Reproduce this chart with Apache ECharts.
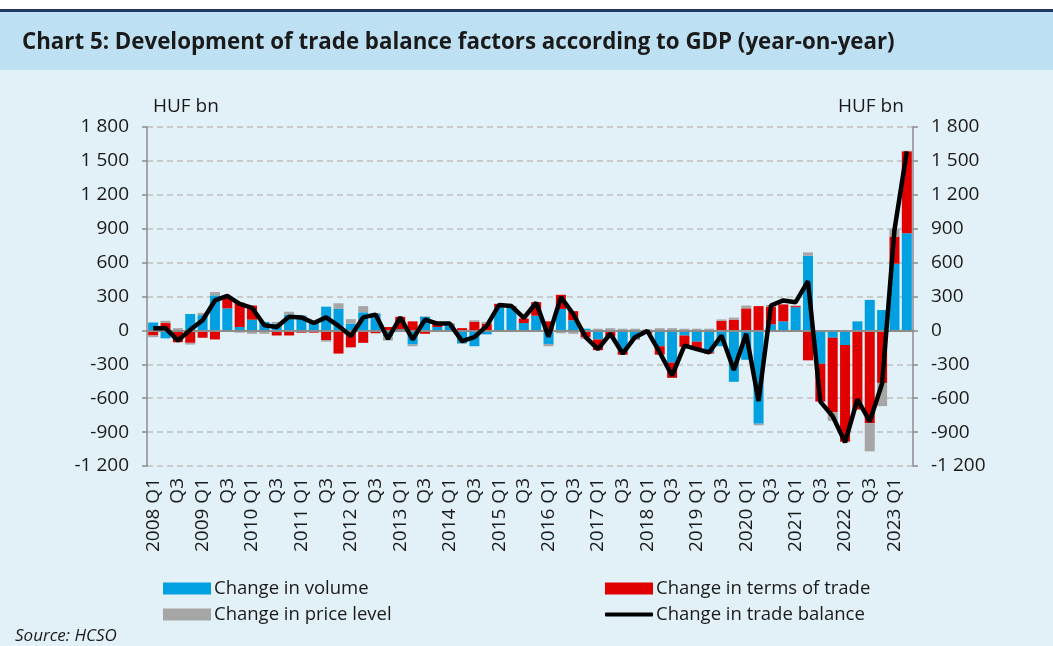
<!DOCTYPE html>
<html lang="en">
<head>
<meta charset="UTF-8">
<title>Chart 5</title>
<style>
  html, body { margin: 0; padding: 0; background: #e2f0f7; }
  #main { width: 1053px; height: 646px; }
</style>
</head>
<body>
<div id="main"></div>
<script src="https://cdn.jsdelivr.net/npm/echarts@6/dist/echarts.min.js"></script>
<script type="text/javascript">
// quarters 2008 Q1 .. 2023 Q2
var categories = [
  '2008 Q1','Q2','Q3','Q4','2009 Q1','Q2','Q3','Q4','2010 Q1','Q2','Q3','Q4',
  '2011 Q1','Q2','Q3','Q4','2012 Q1','Q2','Q3','Q4','2013 Q1','Q2','Q3','Q4',
  '2014 Q1','Q2','Q3','Q4','2015 Q1','Q2','Q3','Q4','2016 Q1','Q2','Q3','Q4',
  '2017 Q1','Q2','Q3','Q4','2018 Q1','Q2','Q3','Q4','2019 Q1','Q2','Q3','Q4',
  '2020 Q1','Q2','Q3','Q4','2021 Q1','Q2','Q3','Q4','2022 Q1','Q2','Q3','Q4',
  '2023 Q1','Q2'
];

// HUF bn
var volume = [
  70, -70, -5, 145, 135, 310, 195, 30, 95, 75, 60, 140,
  130, 70, 210, 190, 60, 160, 145, -50, 10, -125, 120, 30,
  55, -115, -140, -35, 205, 210, 65, 130, -120, 190, 90, 15,
  -80, -5, -185, -75, -15, -140, -285, -45, -100, -195, -140, -455,
  -260, -825, 55, 80, 205, 660, -295, -65, -130, 80, 270, 180,
  590, 860
];
var termsOfTrade = [
  -45, 65, -100, -110, -65, -80, 100, 215, 125, -5, -45, -45,
  -20, -20, -85, -205, -150, -110, -25, 30, 110, 80, -30, 35,
  5, 20, 75, 60, 30, 5, 40, 120, 80, 125, 80, -60,
  -95, -50, -30, -5, -10, -75, -135, -100, -65, -10, 85, 95,
  195, 215, 155, 150, 10, -265, -335, -660, -855, -700, -820, -465,
  240, 725
];
var priceLevel = [
  -15, 20, 20, -15, 20, 30, 5, -20, -30, -25, 15, 25,
  5, 10, -15, 50, 40, 55, 10, -40, 0, -15, 5, 0,
  0, -5, 15, 15, 0, 0, 0, 0, -20, -25, -30, -15,
  15, 20, 15, 15, 10, 20, 20, 15, 15, 15, 12, 18,
  25, -15, 15, 0, 5, 30, 0, -75, -5, 0, -250, -205,
  68, 5
];
var tradeBalance = [
  20, 20, -90, 5, 90, 265, 305, 235, 200, 45, 30, 120,
  115, 65, 115, 40, -50, 115, 140, -75, 115, -80, 95, 60,
  60, -95, -60, 40, 225, 215, 110, 245, -55, 295, 145, -60,
  -165, -30, -205, -60, -5, -195, -400, -135, -165, -195, -45, -350,
  -30, -625, 220, 265, 250, 435, -630, -760, -990, -610, -805, -470,
  890, 1585
];

var yTicks = { min: -1200, max: 1800, interval: 300 };

var FONT = 'Open Sans';

function fmtNum(v) {
  var s = String(Math.abs(v));
  if (s.length > 3) s = s.slice(0, s.length - 3) + ' ' + s.slice(s.length - 3);
  return (v < 0 ? '-' : '') + s;
}

var myChart = echarts.init(document.getElementById('main'));

var axisLabelStyle = { color: '#1a1a1a', fontSize: 19, fontFamily: FONT };
var legendText = { fontSize: 18.5, fontFamily: FONT, color: '#1a1a1a', padding: [0, 0, 0, -2] };

var option = {
  backgroundColor: '#e2f0f7',
  animation: false,
  graphic: [
    { type: 'rect', left: 0, top: 0, shape: { width: 1053, height: 9 }, style: { fill: '#ffffff' } },
    { type: 'rect', left: 0, top: 9, shape: { width: 1053, height: 3 }, style: { fill: '#1f3864' } },
    { type: 'rect', left: 0, top: 12, shape: { width: 1053, height: 58 }, style: { fill: '#bde0f2' } },
    { type: 'text', left: 22, top: 32,
      style: { text: 'Chart 5: Development of trade balance factors according to GDP (year-on-year)',
               fill: '#1a1a1a', font: 'bold 22.3px "Open Sans"' } },
    { type: 'text', left: 153, top: 97,
      style: { text: 'HUF bn', fill: '#1a1a1a', font: '19px "Open Sans"' } },
    { type: 'text', left: 838, top: 97,
      style: { text: 'HUF bn', fill: '#1a1a1a', font: '19px "Open Sans"' } },
    { type: 'text', left: 15, top: 628,
      style: { text: 'Source: HCSO', fill: '#1a1a1a', font: 'italic 17px "Open Sans"' } }
  ],
  legend: [
    { data: ['Change in volume'], left: 158, top: 574, icon: 'rect', itemWidth: 48, itemHeight: 12,
      textStyle: legendText },
    { data: ['Change in terms of trade'], left: 600, top: 574, icon: 'rect', itemWidth: 48, itemHeight: 12,
      textStyle: legendText },
    { data: ['Change in price level'], left: 158, top: 600, icon: 'rect', itemWidth: 48, itemHeight: 12,
      textStyle: legendText },
    { data: ['Change in trade balance'], left: 600, top: 600, icon: 'roundRect', itemWidth: 48, itemHeight: 4,
      textStyle: legendText }
  ],
  grid: { left: 147, right: 140, top: 127, bottom: 180 },
  xAxis: {
    type: 'category',
    data: categories,
    axisLine: { show: false },
    axisTick: { show: false },
    axisLabel: Object.assign({ rotate: 90, interval: 1, margin: 12 }, axisLabelStyle),
    splitLine: { show: false }
  },
  yAxis: [
    {
      type: 'value', min: yTicks.min, max: yTicks.max, interval: yTicks.interval,
      axisLine: { show: true, lineStyle: { color: '#8c8c8c', width: 1.5 } },
      axisTick: { show: true, length: 5, lineStyle: { color: '#8c8c8c', width: 1.5 } },
      axisLabel: Object.assign({ margin: 18, formatter: fmtNum }, axisLabelStyle),
      splitLine: { show: true, lineStyle: { color: '#bfbfbf', type: [6, 4], width: 1.5 } }
    },
    {
      type: 'value', min: yTicks.min, max: yTicks.max, interval: yTicks.interval, position: 'right',
      axisLine: { show: true, lineStyle: { color: '#8c8c8c', width: 1.5 } },
      axisTick: { show: true, length: 5, lineStyle: { color: '#8c8c8c', width: 1.5 } },
      axisLabel: Object.assign({ margin: 18, formatter: fmtNum }, axisLabelStyle),
      splitLine: { show: false }
    }
  ],
  series: [
    {
      name: 'Change in volume', type: 'bar', stack: 'f', data: volume,
      barWidth: 10, itemStyle: { color: '#00a0e1' },
      markLine: {
        silent: true, symbol: 'none', label: { show: false },
        lineStyle: { color: '#8c8c8c', type: 'solid', width: 2 },
        data: [{ yAxis: 0 }]
      }
    },
    { name: 'Change in terms of trade', type: 'bar', stack: 'f', data: termsOfTrade,
      barWidth: 10, itemStyle: { color: '#e00000' } },
    { name: 'Change in price level', type: 'bar', stack: 'f', data: priceLevel,
      barWidth: 10, itemStyle: { color: '#a6a6a6' } },
    { name: 'Change in trade balance', type: 'line', data: tradeBalance,
      symbol: 'none', z: 5,
      lineStyle: { color: '#000000', width: 4.5 }, itemStyle: { color: '#000000' } }
  ]
};

myChart.setOption(option);
</script>
</body>
</html>
